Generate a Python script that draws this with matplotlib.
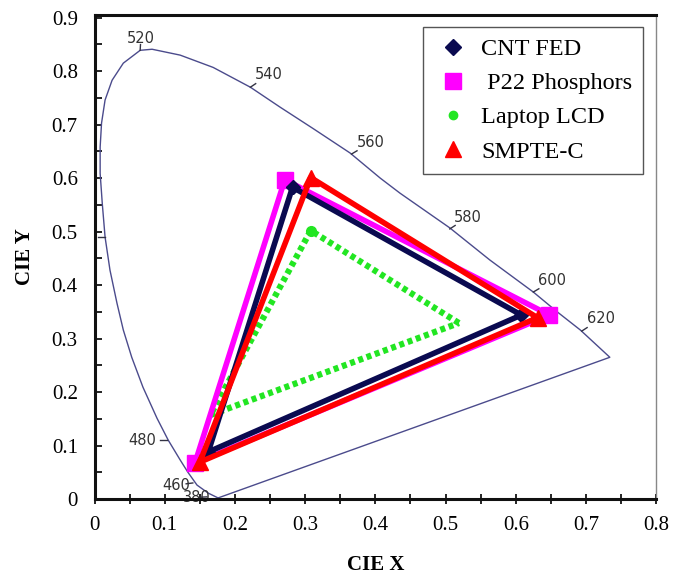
import matplotlib.pyplot as plt
import numpy as np

plt.rcParams['font.family'] = ['Liberation Serif', 'DejaVu Serif']

# spectral locus (from 380 nm round to the red end)
locus_x = [0.176, 0.162, 0.146, 0.133, 0.122, 0.105, 0.089, 0.069, 0.053, 0.041,
           0.032, 0.022, 0.015, 0.011, 0.008, 0.008, 0.010, 0.015, 0.025, 0.041,
           0.065, 0.082, 0.122, 0.169, 0.222, 0.264, 0.311, 0.364, 0.407, 0.435,
           0.506, 0.563, 0.625, 0.659, 0.692, 0.734]
locus_y = [0.002, 0.011, 0.026, 0.050, 0.073, 0.110, 0.151, 0.209, 0.265, 0.316,
           0.366, 0.428, 0.490, 0.553, 0.609, 0.658, 0.703, 0.746, 0.783, 0.815,
           0.839, 0.841, 0.830, 0.807, 0.770, 0.733, 0.693, 0.647, 0.600, 0.572,
           0.507, 0.447, 0.387, 0.350, 0.316, 0.265]

# wavelength marks: tick point on the locus, label centre
wl_text = ['520', '540', '560', '580', '600', '620', '', '480', '460', '380']
wl_tick_x = [0.065, 0.222, 0.366, 0.506, 0.625, 0.694, 0.015, 0.103, 0.140, 0.160]
wl_tick_y = [0.839, 0.770, 0.645, 0.505, 0.387, 0.314, 0.490, 0.110, 0.030, 0.004]
wl_lab_x = [0.066, 0.248, 0.393, 0.532, 0.652, 0.721, 0.000, 0.068, 0.116, 0.146]
wl_lab_y = [0.862, 0.793, 0.666, 0.527, 0.408, 0.337, 0.490, 0.110, 0.026, 0.003]

# gamut triangles (R, G, B)
cnt_x = [0.608, 0.282, 0.162]
cnt_y = [0.344, 0.583, 0.088]
p22_x = [0.648, 0.271, 0.143]
p22_y = [0.344, 0.597, 0.067]
lcd_x = [0.519, 0.308, 0.165]
lcd_y = [0.329, 0.502, 0.157]
smpte_x = [0.631, 0.308, 0.150]
smpte_y = [0.339, 0.601, 0.069]

fig = plt.figure(figsize=(6.86, 5.82), dpi=100)
ax = fig.add_axes([0.1378, 0.1426, 0.8187, 0.8316])

lc = '#4b4b8c'
ax.plot(locus_x + [locus_x[0]], locus_y + [locus_y[0]], color=lc, lw=1.0,
        solid_joinstyle='round', zorder=2)

for t, tx, ty, lx, ly in zip(wl_text, wl_tick_x, wl_tick_y, wl_lab_x, wl_lab_y):
    # small tick from the locus toward the label
    dx, dy = lx - tx, ly - ty
    n = np.hypot(dx / 0.8, dy / 0.9)
    ax.plot([tx, tx + dx / n * 0.012], [ty, ty + dy / n * 0.012], color='#333344', lw=1.0, zorder=2)
    if t:
        ax.text(lx, ly, t, fontsize=10.5, family='DejaVu Sans', color='#333333',
                ha='center', va='center', zorder=2)

def tri(xs, ys):
    return xs + [xs[0]], ys + [ys[0]]

x, y = tri(lcd_x, lcd_y)
ax.plot(x, y, color='#22e622', lw=4.5, ls=(0, (0.8, 0.6)), zorder=3)
ax.plot(lcd_x[1], lcd_y[1], 'o', color='#22e622', ms=7, zorder=3)

x, y = tri(p22_x, p22_y)
ax.plot(x, y, color='#ff00ff', lw=4, zorder=4)
ax.plot(p22_x, p22_y, 's', color='#ff00ff', ms=11, zorder=4)

x, y = tri(cnt_x, cnt_y)
ax.plot(x, y, color='#0a0a50', lw=4, zorder=5)
ax.plot(cnt_x, cnt_y, 'D', color='#0a0a50', ms=7, zorder=5)

x, y = tri(smpte_x, smpte_y)
ax.plot(x, y, color='#ff0000', lw=4, zorder=6)
ax.plot(smpte_x, smpte_y, '^', color='#ff0000', ms=12, zorder=6)

ax.set_xlim(0, 0.8)
ax.set_ylim(0, 0.905)
ax.set_xticks(np.arange(0, 0.81, 0.1))
ax.set_xticklabels(['0', '0.1', '0.2', '0.3', '0.4', '0.5', '0.6', '0.7', '0.8'])
ax.set_yticks(np.arange(0, 0.91, 0.1))
ax.set_yticklabels(['0', '0.1', '0.2', '0.3', '0.4', '0.5', '0.6', '0.7', '0.8', '0.9'])
ax.set_xticks(np.arange(0.05, 0.8, 0.1), minor=True)
ax.set_yticks(np.arange(0.05, 0.9, 0.1), minor=True)
ax.tick_params(axis='x', which='both', direction='inout', length=7, width=1.2, labelsize=15, pad=9)
ax.tick_params(axis='y', which='both', direction='in', length=5, width=1.2, labelsize=15, pad=12)

for s in ['left', 'bottom', 'top']:
    ax.spines[s].set_linewidth(2.2)
    ax.spines[s].set_color('#111111')
ax.spines['right'].set_linewidth(1.0)
ax.spines['right'].set_color('#888888')

ax.set_xlabel('CIE X', fontsize=15, fontweight='bold', labelpad=14)
ax.set_ylabel('CIE Y', fontsize=15, fontweight='bold', labelpad=12)

h1, = ax.plot([], [], 'D', color='#0a0a50', ms=8)
h2, = ax.plot([], [], 's', color='#ff00ff', ms=11)
h3, = ax.plot([], [], 'o', color='#22e622', ms=6)
h4, = ax.plot([], [], '^', color='#ff0000', ms=12)
leg = ax.legend([h1, h2, h3, h4], ['CNT FED', ' P22 Phosphors', 'Laptop LCD', 'SMPTE-C'],
                loc='upper right', bbox_to_anchor=(0.99, 0.99), fontsize=17.5,
                fancybox=False, framealpha=1, edgecolor='#555555',
                handletextpad=0.35, handlelength=1.6, labelspacing=0.5, borderpad=0.45,
                borderaxespad=0.3)
leg.get_frame().set_linewidth(1.0)

fig.savefig('out.png', dpi=100)
